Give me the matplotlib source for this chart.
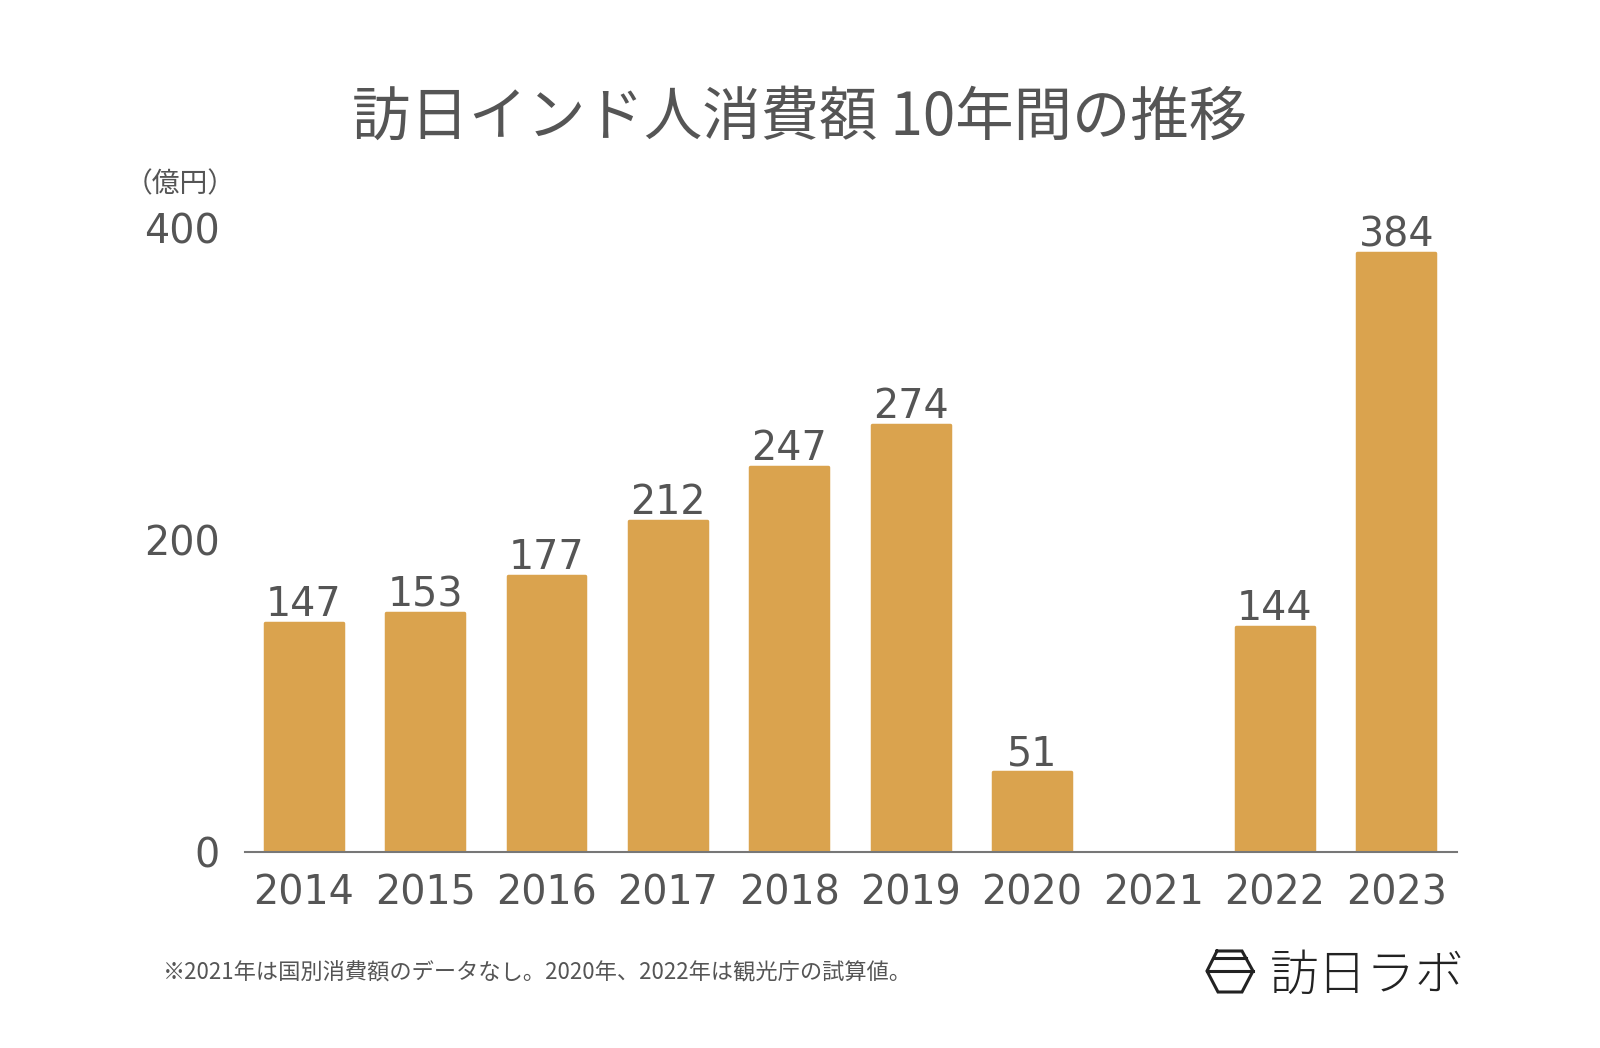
import matplotlib
matplotlib.use("Agg")
import matplotlib.pyplot as plt
from matplotlib.lines import Line2D

years = ["2014", "2015", "2016", "2017", "2018", "2019", "2020", "2021", "2022", "2023"]
values = [147, 153, 177, 212, 247, 274, 51, None, 144, 384]
yticks = [0, 200, 400]

title = "訪日インド人消費額 10年間の推移"
unit = "（億円）"
note = "※2021年は国別消費額のデータなし。2020年、2022年は観光庁の試算値。"
logo = "訪日ラボ"

CJK = ["Noto Sans CJK JP", "DejaVu Sans"]
NUM = ["DejaVu Sans"]
plt.rcParams["font.family"] = CJK
TXT = "#555555"
BAR = "#DAA34E"

fig = plt.figure(figsize=(16, 10.48), dpi=100)
ax = fig.add_axes([0.1531, 0.1873, 0.7575, 0.5947])

xs = list(range(len(years)))
for x, v in zip(xs, values):
    if v is None:
        continue
    ax.bar(x, v, width=0.64, color=BAR, edgecolor=BAR, linewidth=2.5,
           joinstyle="round", zorder=2)
    ax.annotate(str(v), (x, v), xytext=(0, 5), textcoords="offset points",
                ha="center", va="baseline", fontsize=28.5, color=TXT, family=NUM)

ax.set_xlim(-0.484, 9.50)
ax.set_ylim(0, 400)
ax.set_xticks(xs)
ax.set_xticklabels(years, fontsize=28.5, color=TXT, family=NUM)
ax.set_yticks(yticks)
ax.set_yticklabels([str(t) for t in yticks], fontsize=28.5, color=TXT, family=NUM)
ax.tick_params(axis="both", length=0)
ax.tick_params(axis="x", pad=16)
ax.tick_params(axis="y", pad=18)
for s in ["top", "right", "left"]:
    ax.spines[s].set_visible(False)
ax.spines["bottom"].set_color("#777777")
ax.spines["bottom"].set_linewidth(1.5)
ax.spines["bottom"].set_zorder(3)

fig.text(0.5, 0.887, title, ha="center", va="center", fontsize=42, color=TXT)
fig.text(0.147, 0.824, unit, ha="right", va="center", fontsize=20, color=TXT)
fig.text(0.102, 0.0715, note, ha="left", va="center", fontsize=16, color=TXT)
fig.text(0.7935, 0.069, logo, ha="left", va="center", fontsize=35, color="#222222",
         fontweight="light")

# logo icon (hexagon with two horizontal lines)
W, H = 1600, 1048
def fx(px):
    return px / W
def fy(py):
    return 1 - py / H
pts = [(1217, 951), (1242, 951), (1253, 971), (1242, 992), (1218, 992), (1207, 971), (1217, 951)]
ic = "#222222"
fig.add_artist(Line2D([fx(p[0]) for p in pts], [fy(p[1]) for p in pts], color=ic, lw=2.2,
                      solid_joinstyle="miter"))
fig.add_artist(Line2D([fx(1213.5), fx(1245.5)], [fy(958), fy(958)], color=ic, lw=2.2))
fig.add_artist(Line2D([fx(1207), fx(1253)], [fy(971), fy(971)], color=ic, lw=2.2))

fig.savefig("out.png", dpi=100, facecolor="white")
